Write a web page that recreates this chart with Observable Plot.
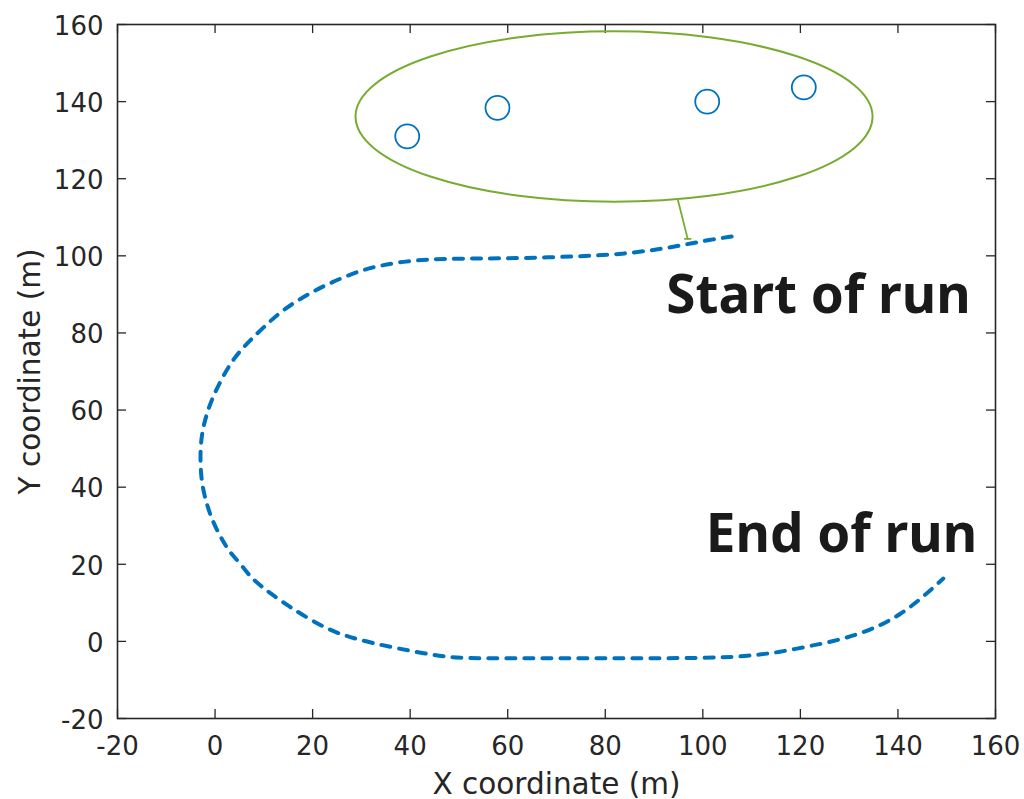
<!DOCTYPE html>
<html>
<head>
<meta charset="utf-8">
<script src="https://cdn.jsdelivr.net/npm/d3@7"></script>
<script src="https://cdn.jsdelivr.net/npm/@observablehq/plot@0.6"></script>
<style>
  html, body { margin: 0; padding: 0; background: #fff; }
  #chart svg { display: block; }
</style>
</head>
<body>
<div id="chart"></div>
<script>
// ---- data ----
const trackX = [105.9,101.6,97.5,93.4,89.3,84.1,79.0,68.8,58.5,49.7,43.6,38.6,33.9,29.8,25.7,21.6,17.5,13.4,9.9,6.7,3.8,1.5,-0.5,-1.7,-2.6,-3.0,-3.0,-2.6,-1.5,-0.3,1.5,3.2,5.2,7.3,9.3,11.4,14.9,19.0,23.7,27.8,32.5,37.4,42.7,48.3,53.8,64.1,77.6,91.3,105.1,110.4,115.3,121.5,126.8,131.7,136.4,140.5,144.6,149.3];
const trackY = [105.0,104.2,103.2,102.2,101.4,100.6,100.1,99.6,99.3,99.3,99.1,98.5,97.5,96.2,94.1,91.8,88.9,85.5,81.4,77.5,73.4,68.5,63.3,59.1,54.7,50.3,45.1,39.9,34.7,30.6,26.2,22.8,20.2,16.6,14.5,12.4,9.3,6.0,2.8,1.0,-0.5,-1.8,-3.1,-4.2,-4.4,-4.4,-4.4,-4.4,-4.2,-3.6,-2.9,-1.3,0.0,1.8,4.1,7.0,10.9,16.3];

const landmarkX = [39.4, 57.9, 100.9, 120.7];
const landmarkY = [131.0, 138.4, 140.0, 143.7];

const ellipseCX = [81.9];
const ellipseCY = [136.0];
const ellipseRX = [53.0];
const ellipseRY = [22.1];

const pointerX = [94.9, 96.9];
const pointerY = [114.4, 104.4];
const pointerEndX = [96.3, 97.5];

const annotTexts = ["Start of run", "End of run"];
const annotX = [92.5, 100.6];
const annotY = [85.1, 23.1];

const xTicks = [-20, 0, 20, 40, 60, 80, 100, 120, 140, 160];
const yTicks = [-20, 0, 20, 40, 60, 80, 100, 120, 140, 160];
const xLabel = "X coordinate (m)";
const yLabel = "Y coordinate (m)";

// ---- tables ----
const track = trackX.map((x, i) => ({x, y: trackY[i]}));
const landmarks = landmarkX.map((x, i) => ({x, y: landmarkY[i]}));
const ellipses = ellipseCX.map((cx, i) => ({cx, cy: ellipseCY[i], rx: ellipseRX[i], ry: ellipseRY[i]}));
const pointer = pointerX.map((x, i) => ({x, y: pointerY[i]}));
const pointerEnd = pointerEndX.map(x => ({x, y: pointerY[1]}));
const annots = annotTexts.map((t, i) => ({t, x: annotX[i], y: annotY[i]}));

const W = 1024, H = 799;
const mL = 117, mR = 29, mT = 24, mB = 81;
const plotW = W - mL - mR, plotH = H - mT - mB;
const tickLen = 9;
const axisColor = "#262626";
const tickFont = "DejaVu Sans, sans-serif";

const green = "#77AC30";
const blue = "#0072BD";

function ellipseMark(index, scales) {
  const g = document.createElementNS("http://www.w3.org/2000/svg", "g");
  for (const e of ellipses) {
    const el = document.createElementNS("http://www.w3.org/2000/svg", "ellipse");
    const cx = scales.x(e.cx), cy = scales.y(e.cy);
    el.setAttribute("cx", cx);
    el.setAttribute("cy", cy);
    el.setAttribute("rx", Math.abs(scales.x(e.cx + e.rx) - cx));
    el.setAttribute("ry", Math.abs(scales.y(e.cy + e.ry) - cy));
    el.setAttribute("fill", "none");
    el.setAttribute("stroke", green);
    el.setAttribute("stroke-width", 2);
    g.appendChild(el);
  }
  return g;
}

const chart = Plot.plot({
  width: W, height: H,
  marginLeft: mL, marginRight: mR, marginTop: mT, marginBottom: mB,
  x: {domain: [-20, 160], axis: null},
  y: {domain: [-20, 160], axis: null},
  style: {background: "white", overflow: "visible"},
  marks: [
    // tick marks (inward, all four sides)
    Plot.tickX(xTicks, {x: d => d, insetTop: plotH - tickLen, stroke: axisColor, strokeWidth: 1.3}),
    Plot.tickX(xTicks, {x: d => d, insetBottom: plotH - tickLen, stroke: axisColor, strokeWidth: 1.3}),
    Plot.tickY(yTicks, {y: d => d, insetRight: plotW - tickLen, stroke: axisColor, strokeWidth: 1.3}),
    Plot.tickY(yTicks, {y: d => d, insetLeft: plotW - tickLen, stroke: axisColor, strokeWidth: 1.3}),
    Plot.frame({stroke: axisColor, strokeWidth: 1.6}),
    // tick labels
    Plot.text(xTicks, {x: d => d, text: d => String(d), frameAnchor: "bottom", dy: 28, lineAnchor: "middle",
      fontSize: 26, fontFamily: tickFont, fill: axisColor}),
    Plot.text(yTicks, {y: d => d, text: d => String(d), frameAnchor: "left", dx: -14, dy: 2, textAnchor: "end", lineAnchor: "middle",
      fontSize: 26, fontFamily: tickFont, fill: axisColor}),
    // axis labels
    Plot.text([xLabel], {text: d => d, frameAnchor: "bottom", dy: 66, lineAnchor: "middle",
      fontSize: 29.5, fontFamily: tickFont, fill: axisColor}),
    Plot.text([yLabel], {text: d => d, frameAnchor: "left", dx: -87, rotate: -90, lineAnchor: "middle", textAnchor: "middle",
      fontSize: 29.5, fontFamily: tickFont, fill: axisColor}),
    // track
    Plot.line(track, {x: "x", y: "y", stroke: blue, strokeWidth: 4, strokeDasharray: "9,9", strokeLinecap: "round", curve: "basis"}),
    // ellipse & pointer
    ellipseMark,
    Plot.line(pointer, {x: "x", y: "y", stroke: green, strokeWidth: 1.8}),
    Plot.line(pointerEnd, {x: "x", y: "y", stroke: green, strokeWidth: 1.8}),
    // landmarks
    Plot.dot(landmarks, {x: "x", y: "y", r: 12, stroke: blue, strokeWidth: 1.8, fill: "none"}),
    // annotations
    Plot.text(annots, {x: "x", y: "y", text: "t", textAnchor: "start", lineAnchor: "bottom",
      fontSize: 53, fontWeight: "bold", fontFamily: "Noto Sans, sans-serif", fill: "#1a1a1a"})
  ]
});
document.getElementById("chart").appendChild(chart);
</script>
</body>
</html>
